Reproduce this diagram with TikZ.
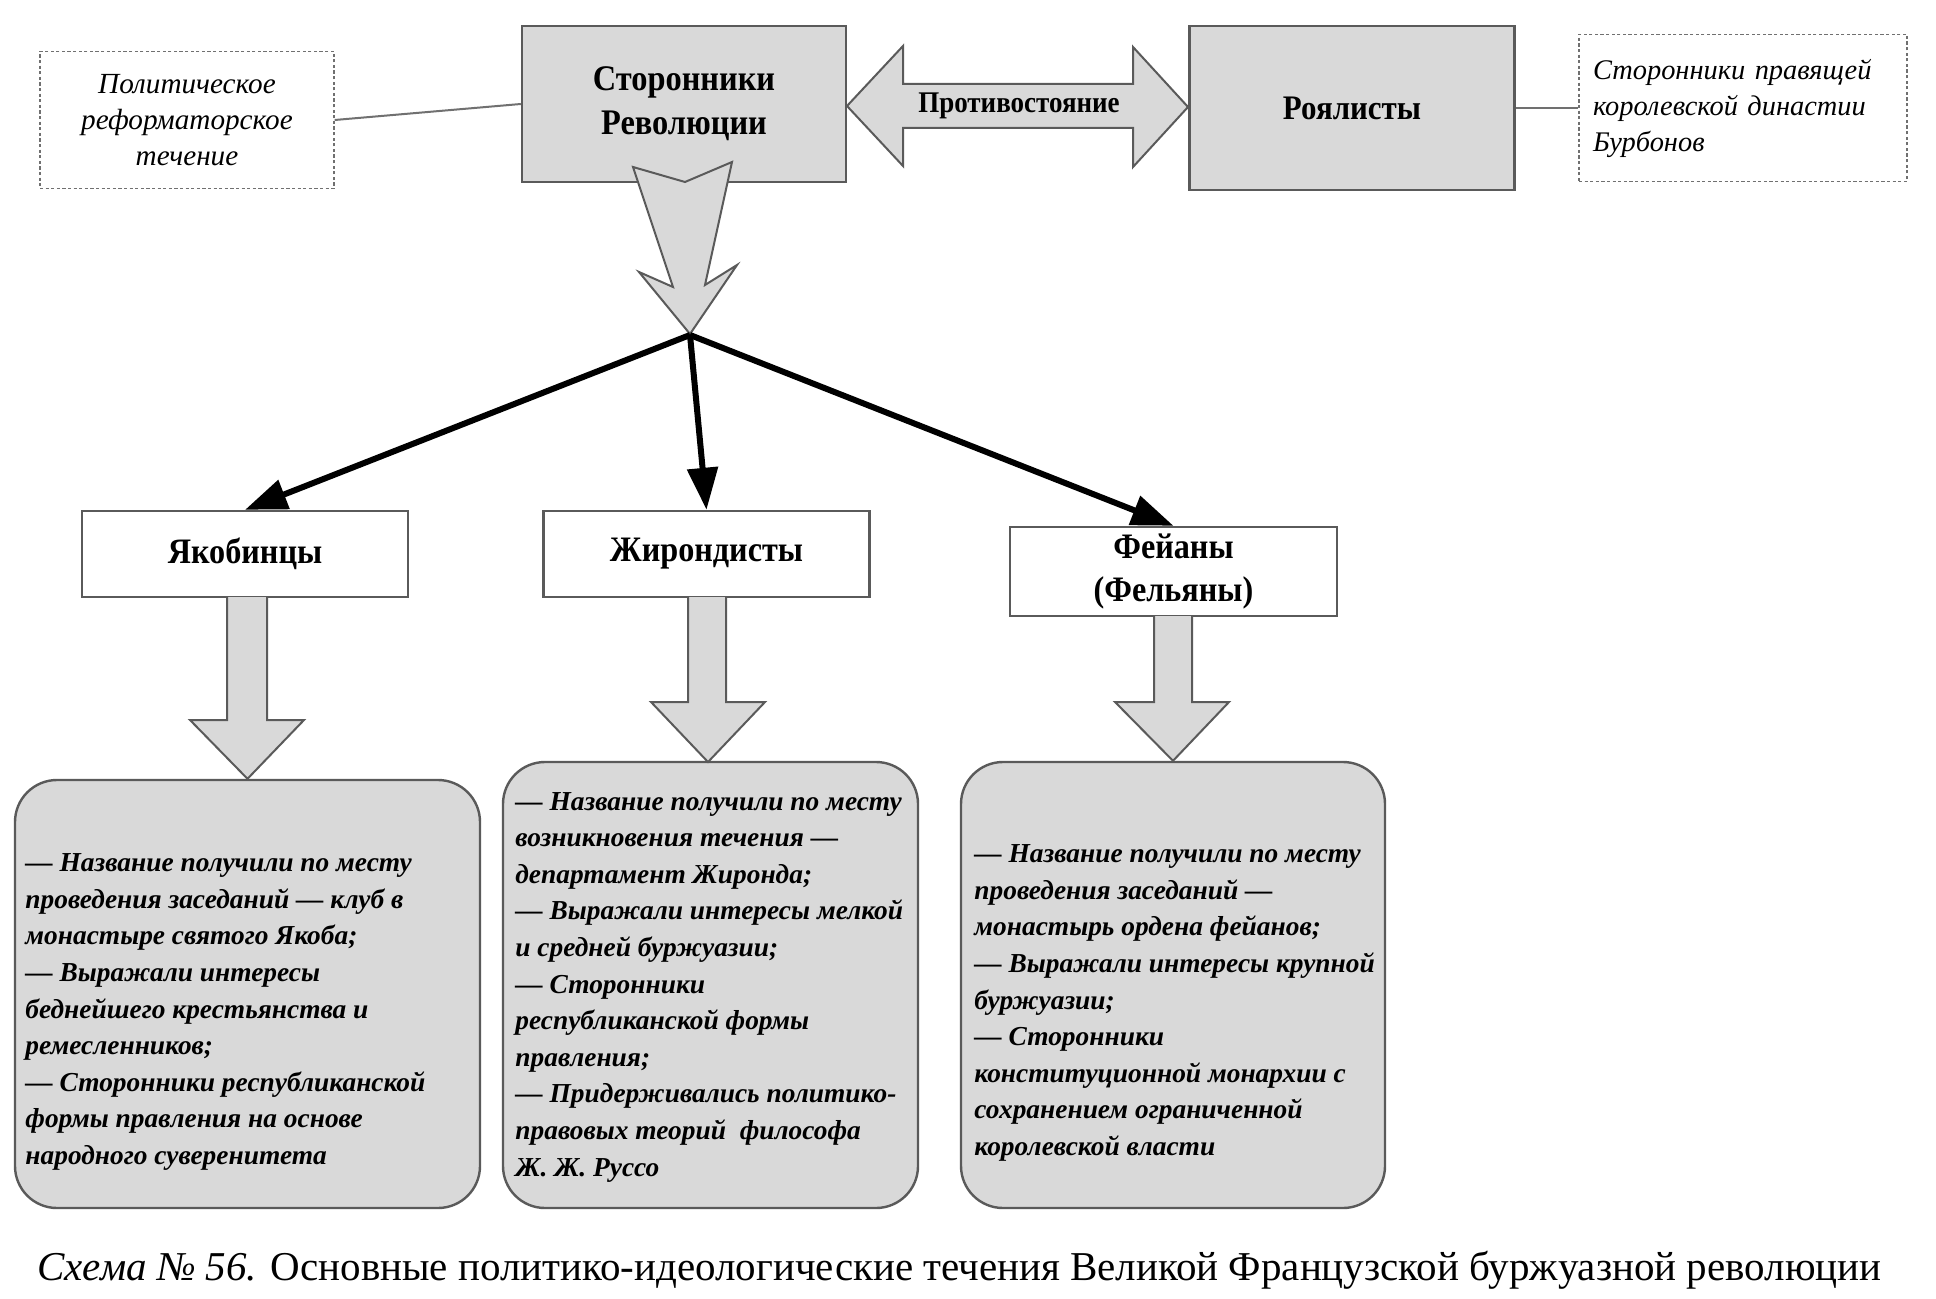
\documentclass[tikz,border=0pt]{standalone}
\usepackage{fontspec}
\setmainfont{Liberation Serif}
\newfontfamily\condserif[FakeStretch=0.9]{Liberation Serif}
\usetikzlibrary{arrows.meta,calc}
\definecolor{boxgray}{HTML}{D9D9D9}
\definecolor{edgegray}{HTML}{5A5A5A}
\definecolor{dashgray}{HTML}{707070}
\begin{document}
\begin{tikzpicture}[x=0.5pt,y=-0.5pt,
  graybox/.style={draw=edgegray, line width=1.2pt, fill=boxgray, inner sep=0pt, align=center},
  whitebox/.style={draw=edgegray, line width=1.2pt, fill=white, inner sep=0pt, align=center,
    minimum width=163pt, font=\condserif\bfseries\fontsize{17.9}{21.5}\selectfont},
  notebox/.style={draw=dashgray, line width=0.7pt, dash pattern=on 1.6pt off 1.2pt, fill=white,
    font=\itshape\fontsize{14.6}{18}\selectfont},
  infobox/.style={draw=edgegray, line width=1.2pt, fill=boxgray, rounded corners=21pt},
  infotext/.style={anchor=west, align=left, inner sep=0pt, font=\bfseries\itshape\fontsize{13.7}{18.3}\selectfont},
  blockarrow/.style={draw=edgegray, line width=1pt, fill=boxgray, line join=miter},
  thickarrow/.style={line width=3pt, -{Triangle[length=21pt,width=15pt]}},
  thinlink/.style={draw=dashgray, line width=1pt}]
\useasboundingbox (0,0) rectangle (1936,1299);
\fill[white] (0,0) rectangle (1936,1299);

% top row
\node[notebox, minimum width=147pt, minimum height=68.5pt, align=center, inner sep=0pt] (pol) at (187,120)
  {Политическое\\реформаторское\\течение};
\node[graybox, minimum width=162pt, minimum height=78pt, font=\condserif\bfseries\fontsize{18}{22}\selectfont] (sr) at (684,104)
  {Сторонники\\Революции};
\node[graybox, minimum width=162.5pt, minimum height=82pt, font=\condserif\bfseries\fontsize{17.2}{21}\selectfont] (roy) at (1352,108)
  {Роялисты};
\node[notebox, minimum width=164pt, minimum height=73.5pt, text width=150pt, align=left, inner xsep=7pt, inner ysep=0pt,
  font=\itshape\fontsize{14.2}{18}\selectfont] (bur) at (1743,108)
  {Сторонники правящей\\королевской династии\\Бурбонов};

\draw[thinlink] (pol.east) -- (sr.west);
\draw[thinlink] (roy.east) -- (bur.west);

% double arrow
\draw[blockarrow] (847,106) -- (903,46) -- (903,84) -- (1133,84) -- (1133,47) -- (1188,107)
  -- (1133,167) -- (1133,128) -- (903,128) -- (903,166) -- cycle;
\node[font=\condserif\bfseries\fontsize{15}{18}\selectfont, inner sep=0pt] (prot) at (1019,106) {Противостояние};

% chevron arrow
\draw[blockarrow] (633,167) -- (685,182) -- (732,162) -- (705,285) -- (737,265) -- (690,334)
  -- (639,272) -- (673,287) -- cycle;
\coordinate (hub) at (690,335);

% middle boxes
\node[whitebox, minimum height=43pt] (jak) at (245,554) {Якобинцы};
\node[whitebox, minimum height=43pt] (jir) at (706.5,554) {Жирондисты};
\node[whitebox, minimum height=44.5pt, minimum width=163.5pt] (fei) at (1173.5,571.5) {Фейаны\\(Фельяны)};

\draw[thickarrow] (hub) -- (jak.north);
\draw[thickarrow] (hub) -- (jir.north);
\draw[thickarrow] (hub) -- (fei.north);

% info boxes
\node[infobox, minimum width=232.5pt, minimum height=214pt] (b1) at (247.5,994) {};
\node[infobox, minimum width=207.5pt, minimum height=223pt] (b2) at (710.5,985) {};
\node[infobox, minimum width=212pt, minimum height=223pt] (b3) at (1173,985) {};

% gray block arrows
\draw[blockarrow] (227,597) -- (227,720) -- (190,720) -- (b1.north) -- (304,720) -- (267,720) -- (267,597);
\draw[blockarrow] (688,597) -- (688,702) -- (651,702) -- (708,762) -- (765,702) -- (726,702) -- (726,597);
\draw[blockarrow] (1154,616) -- (1154,702) -- (1115,702) -- (b3.north) -- (1229,702) -- (1192,702) -- (1192,616);

\node[infotext] (t1) at (25,1012) {— Название получили по месту\\проведения заседаний — клуб в\\монастыре святого Якоба;\\— Выражали интересы\\беднейшего крестьянства и\\ремесленников;\\— Сторонники республиканской\\формы правления на основе\\народного суверенитета};
\node[infotext] (t2) at (515,987) {— Название получили по месту\\возникновения течения —\\департамент Жиронда;\\— Выражали интересы мелкой\\и средней буржуазии;\\— Сторонники\\республиканской формы\\правления;\\— Придерживались политико-\\правовых теорий~ философа\\Ж. Ж. Руссо};
\node[infotext] (t3) at (974,1003) {— Название получили по месту\\проведения заседаний —\\монастырь ордена фейанов;\\— Выражали интересы крупной\\буржуазии;\\— Сторонники\\конституционной монархии с\\сохранением ограниченной\\королевской власти};

% caption
\node[anchor=west, inner sep=0pt, font=\fontsize{20.5}{24}\selectfont] (cap) at (37,1270)
  {\textit{Схема № 56.} Основные политико-идеологические течения Великой Французской буржуазной революции};
\end{tikzpicture}
\end{document}
